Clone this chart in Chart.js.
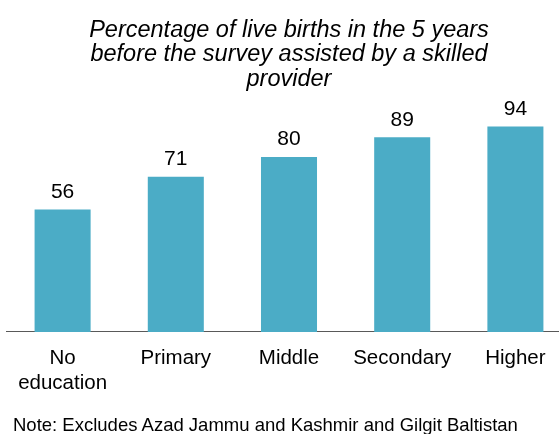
<!DOCTYPE html>
<html>
<head>
<meta charset="utf-8">
<script src="https://cdn.jsdelivr.net/npm/chart.js@4"></script>
<style>
  html, body { margin: 0; padding: 0; background: #fff; overflow: hidden; }
  #wrap { position: relative; width: 559px; height: 434px; overflow: hidden; }
  #box { position: absolute; left: 0; top: 0; width: 572px; height: 434px; }
  #note { position: absolute; left: 13px; top: 414px; font: 18.5px "Liberation Sans", Arial, sans-serif; color: #000; white-space: nowrap; }
</style>
</head>
<body>
<div id="wrap">
  <div id="box"><canvas id="chart"></canvas></div>
  <div id="note">Note: Excludes Azad Jammu and Kashmir and Gilgit Baltistan</div>
</div>
<script>
// chart data
const categories = [["No", "education"], "Primary", "Middle", "Secondary", "Higher"];
const values = [56, 71, 80, 89, 94];
const titleLines = [
    "Percentage of live births in the 5 years",
    "before the survey assisted by a skilled",
    "provider"
];

// draws the number above each bar
const valueLabels = {
    id: "valueLabels",
    afterDatasetsDraw(chart) {
        const ctx = chart.ctx;
        const meta = chart.getDatasetMeta(0);
        ctx.save();
        ctx.font = '21px "Liberation Sans", Arial, sans-serif';
        ctx.fillStyle = "#000";
        ctx.textAlign = "center";
        ctx.textBaseline = "bottom";
        meta.data.forEach((bar, i) => {
            ctx.fillText(values[i], bar.x, bar.y - 7);
        });
        ctx.restore();
    }
};

const ctx = document.getElementById("chart").getContext("2d");
new Chart(ctx, {
    type: "bar",
    data: {
        labels: categories,
        datasets: [{
            data: values,
            backgroundColor: "#4BACC6",
            borderWidth: 0,
            barPercentage: 1,
            categoryPercentage: 0.495
        }]
    },
    options: {
        responsive: true,
        maintainAspectRatio: false,
        animation: false,
        layout: { padding: { left: 6, right: 0, top: 18, bottom: 24 } },
        plugins: {
            legend: { display: false },
            tooltip: { enabled: false },
            title: {
                display: true,
                text: titleLines,
                color: "#000",
                font: { family: '"Liberation Sans", Arial, sans-serif', size: 23.5, style: "italic", weight: "normal", lineHeight: 1.04 },
                padding: { top: 0, bottom: 22 }
            }
        },
        scales: {
            x: {
                grid: { display: false, drawTicks: false },
                border: { display: true, color: "#595959", width: 1 },
                ticks: {
                    color: "#000",
                    padding: 14,
                    font: { family: '"Liberation Sans", Arial, sans-serif', size: 20.5, lineHeight: 1.22 },
                    maxRotation: 0,
                    autoSkip: false
                }
            },
            y: {
                display: false,
                min: 0,
                max: 100
            }
        }
    },
    plugins: [valueLabels]
});
</script>
</body>
</html>
